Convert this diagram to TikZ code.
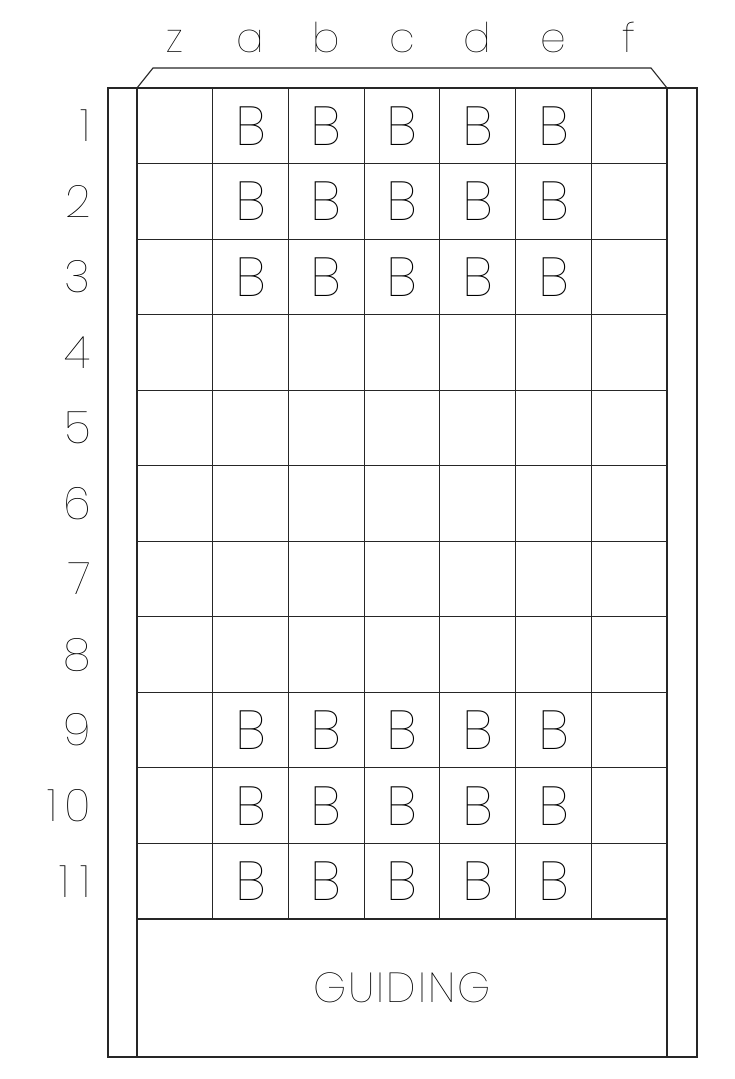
\documentclass[tikz,border=0pt]{standalone}
\usepackage{fontspec}
\newfontfamily\thinfont{Poppins Thin}
\begin{document}
\begin{tikzpicture}[x=1pt,y=-1pt,
  frame/.style={line width=1.1pt, draw=black!85},
  celltext/.style={font=\thinfont\fontsize{55}{55}\selectfont, inner sep=0pt},
  collabel/.style={font=\thinfont\fontsize{41}{41}\selectfont, inner sep=0pt, anchor=base},
  rowlabel/.style={font=\thinfont\fontsize{45}{45}\selectfont, inner sep=0pt, anchor=east},
  titletext/.style={font=\thinfont\fontsize{42}{42}\selectfont, inner sep=0pt}]
\useasboundingbox (0,0) rectangle (734,1079);
% key coordinates
\coordinate (oTL) at (108,88);
\coordinate (oBR) at (697,1057);
\coordinate (iL) at (137,88);
\coordinate (iR) at (667,88);
\coordinate (iLb) at (137,1057);
\coordinate (iRb) at (667,1057);
\coordinate (bl) at (153,68);
\coordinate (br) at (651,68);
% outer frame and inner border
\draw[frame] (oTL) rectangle (oBR);
\draw[frame] (iL) -- (iLb);
\draw[frame] (iR) -- (iRb);
% top bracket
\draw[frame] (iL) -- (bl) -- (br) -- (iR);
% grid
\foreach \k in {1,...,11} {
  \draw[frame] (137,{88+75.545*\k}) -- (667,{88+75.545*\k});
}
\foreach \k in {1,...,6} {
  \draw[frame] ({137+75.714*\k},88) -- ({137+75.714*\k},919);
}
% column labels
\foreach \t [count=\i from 0] in {z,a,b,c,d,e,f} {
  \node[collabel] (col\i) at ({137+75.714*(\i+0.5)},52) {\t};
}
% row labels
\foreach \r/\t in {1/1,2/2,3/3,4/4,5/5,6/6,7/7,8/8,9/9,10/1\kern7pt0,11/1\kern11pt1} {
  \node[rowlabel] (row\r) at (91,{88+75.545*(\r-0.5)}) {\t};
}
% B cells
\foreach \r in {1,2,3,9,10,11} {
  \foreach \c in {1,...,5} {
    \node[celltext] (b\r-\c) at ({137+75.714*(\c+0.5)},{88+75.545*(\r-0.5)}) {B};
  }
}
\node[titletext] (guiding) at (402,988) {G\kern2pt U\kern2pt I\kern2pt D\kern2pt I\kern2pt N\kern2pt G};
\end{tikzpicture}
\end{document}
